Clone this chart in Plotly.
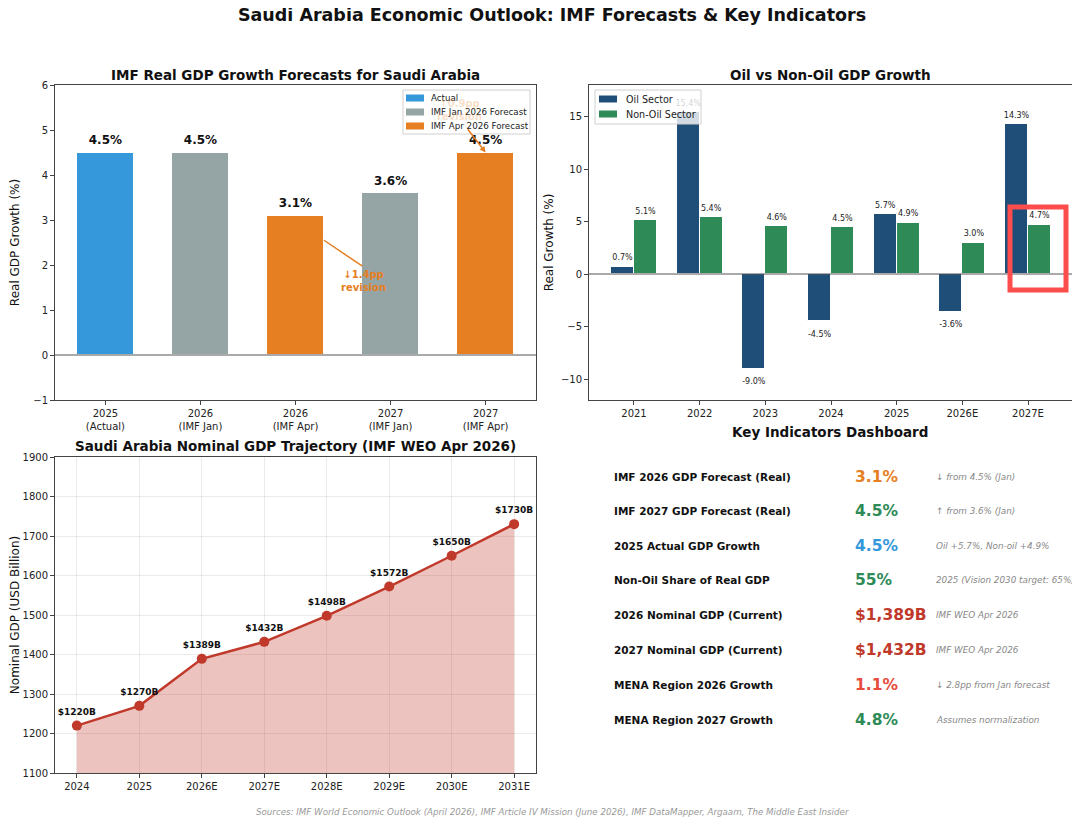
import plotly.graph_objects as go

# --- data -------------------------------------------------------------
fc_labels = ["2025<br>(Actual)", "2026<br>(IMF Jan)", "2026<br>(IMF Apr)",
             "2027<br>(IMF Jan)", "2027<br>(IMF Apr)"]
fc_values = [4.5, 4.5, 3.1, 3.6, 4.5]
fc_kind = ["Actual", "IMF Jan 2026 Forecast", "IMF Apr 2026 Forecast",
           "IMF Jan 2026 Forecast", "IMF Apr 2026 Forecast"]

sector_years = ["2021", "2022", "2023", "2024", "2025", "2026E", "2027E"]
oil_growth = [0.7, 15.4, -9.0, -4.5, 5.7, -3.6, 14.3]
nonoil_growth = [5.1, 5.4, 4.6, 4.5, 4.9, 3.0, 4.7]

nominal_years = ["2024", "2025", "2026E", "2027E", "2028E", "2029E", "2030E", "2031E"]
nominal_gdp = [1220, 1270, 1389, 1432, 1498, 1572, 1650, 1730]

kpi_labels = ["IMF 2026 GDP Forecast (Real)", "IMF 2027 GDP Forecast (Real)",
              "2025 Actual GDP Growth", "Non-Oil Share of Real GDP",
              "2026 Nominal GDP (Current)", "2027 Nominal GDP (Current)",
              "MENA Region 2026 Growth", "MENA Region 2027 Growth"]
kpi_values = ["3.1%", "4.5%", "4.5%", "55%", "$1,389B", "$1,432B", "1.1%", "4.8%"]
kpi_notes = ["↓ from 4.5% (Jan)", "↑ from 3.6% (Jan)", "Oil +5.7%, Non-oil +4.9%",
             "2025 (Vision 2030 target: 65%)", "IMF WEO Apr 2026", "IMF WEO Apr 2026",
             "↓ 2.8pp from Jan forecast", "Assumes normalization"]
kpi_colors = ["#e67e22", "#2e8b57", "#3498db", "#2e8b57", "#c0392b", "#c0392b",
              "#e74c3c", "#2e8b57"]

kind_colors = {"Actual": "#3498db", "IMF Jan 2026 Forecast": "#95a5a6",
               "IMF Apr 2026 Forecast": "#e67e22"}
OIL, NONOIL, RED = "#1f4e79", "#2e8b57", "#c0392b"
FONT = "DejaVu Sans"

W, H = 1080, 824
OFF = 8  # page body margin


def px(x):
    return (x - OFF) / W


def py(y):
    return 1 - (y - OFF) / H


fig = go.Figure()

# --- chart 1: IMF real GDP forecasts ---------------------------------
pos = list(range(len(fc_values)))
for kind, col in kind_colors.items():
    xs = [p for p, k in zip(pos, fc_kind) if k == kind]
    ys = [v for v, k in zip(fc_values, fc_kind) if k == kind]
    fig.add_trace(go.Bar(x=xs, y=ys, width=0.6, name=kind, marker_color=col,
                         marker_line=dict(color="white", width=1), showlegend=False,
                         xaxis="x", yaxis="y"))
fig.add_trace(go.Scatter(x=pos, y=[v + 0.12 for v in fc_values],
                         text=[f"{v}%" for v in fc_values], mode="text",
                         textposition="top center",
                         textfont=dict(size=12, family=FONT, color="#111"),
                         texttemplate="<b>%{text}</b>", showlegend=False,
                         hoverinfo="skip", xaxis="x", yaxis="y"))

# --- chart 2: oil vs non-oil ------------------------------------------
spos = list(range(len(sector_years)))
fig.add_trace(go.Bar(x=spos, y=oil_growth, width=0.35, offset=-0.35, name="Oil Sector",
                     marker_color=OIL, marker_line=dict(color="white", width=1),
                     showlegend=False, xaxis="x2", yaxis="y2"))
fig.add_trace(go.Bar(x=spos, y=nonoil_growth, width=0.35, offset=0, name="Non-Oil Sector",
                     marker_color=NONOIL, marker_line=dict(color="white", width=1),
                     showlegend=False, xaxis="x2", yaxis="y2"))
oil_lbl_y = [v + 0.4 if v >= 0 else v - 0.9 for v in oil_growth]
oil_pos = ["top center" if v >= 0 else "bottom center" for v in oil_growth]
fig.add_trace(go.Scatter(x=[p - 0.175 for p in spos], y=oil_lbl_y,
                         text=[f"{v}%" for v in oil_growth], mode="text",
                         textposition=oil_pos,
                         textfont=dict(size=8, family=FONT, color="#222"),
                         showlegend=False, hoverinfo="skip", xaxis="x2", yaxis="y2"))
fig.add_trace(go.Scatter(x=[p + 0.175 for p in spos], y=[v + 0.4 for v in nonoil_growth],
                         text=[f"{v}%" for v in nonoil_growth], mode="text",
                         textposition="top center",
                         textfont=dict(size=8, family=FONT, color="#222"),
                         showlegend=False, hoverinfo="skip", xaxis="x2", yaxis="y2"))

# --- chart 3: nominal GDP -------------------------------------------
npos = list(range(len(nominal_years)))
fig.add_trace(go.Scatter(x=npos, y=nominal_gdp, mode="lines+markers", fill="tozeroy",
                         fillcolor="rgba(192,57,43,0.3)",
                         line=dict(color=RED, width=2.5), marker=dict(size=10, color=RED),
                         showlegend=False, xaxis="x3", yaxis="y3"))
fig.add_trace(go.Scatter(x=npos, y=[v + 22 for v in nominal_gdp],
                         text=[f"${v}B" for v in nominal_gdp], mode="text",
                         textposition="top center", texttemplate="<b>%{text}</b>",
                         textfont=dict(size=9, family=FONT, color="#111"),
                         showlegend=False, hoverinfo="skip", xaxis="x3", yaxis="y3"))

axis_common = dict(showline=True, mirror=True, linecolor="#444", linewidth=1,
                   ticks="outside", ticklen=4, tickcolor="#444", automargin=False,
                   tickfont=dict(size=10, family=FONT, color="#222"), zeroline=False)

fig.update_layout(
    width=W, height=H, margin=dict(l=0, r=0, t=0, b=0, autoexpand=False),
    paper_bgcolor="white", plot_bgcolor="white",
    font=dict(family=FONT, color="#111"),
    barmode="overlay", bargap=0, showlegend=False,
    title=dict(text="<b>Saudi Arabia Economic Outlook: IMF Forecasts & Key Indicators</b>",
               x=px(552), xanchor="center", y=py(15), yanchor="middle",
               font=dict(size=17.5, family=FONT, color="#111")),
    xaxis=dict(domain=[px(55), px(536)], range=[-0.53, 4.53], tickvals=pos,
               ticktext=fc_labels, anchor="y", showgrid=False, **axis_common),
    yaxis=dict(domain=[py(400), py(85)], range=[-1, 6], dtick=1, anchor="x",
               showgrid=False,
               title=dict(text="Real GDP Growth (%)", font=dict(size=12, family=FONT),
                          standoff=12),
               **axis_common),
    xaxis2=dict(domain=[px(589), px(1073)], range=[-0.685, 6.685], tickvals=spos,
                ticktext=sector_years, anchor="y2", showgrid=False, **axis_common),
    yaxis2=dict(domain=[py(400), py(85)], range=[-12, 18], tickvals=[-10, -5, 0, 5, 10, 15],
                anchor="x2", showgrid=False,
                title=dict(text="Real Growth (%)", font=dict(size=12, family=FONT),
                           standoff=4),
                **axis_common),
    xaxis3=dict(domain=[px(55), px(536)], range=[-0.35, 7.35], tickvals=npos,
                ticktext=nominal_years, anchor="y3", showgrid=True,
                gridcolor="rgba(0,0,0,0.08)", **axis_common),
    yaxis3=dict(domain=[py(773), py(457)], range=[1100, 1900], dtick=100, anchor="x3",
                showgrid=True, gridcolor="rgba(0,0,0,0.08)",
                title=dict(text="Nominal GDP (USD Billion)", font=dict(size=12, family=FONT)),
                **axis_common),
)

# zero lines
fig.add_shape(type="line", xref="x domain", yref="y", x0=0, x1=1, y0=0, y1=0,
              line=dict(color="#555", width=1))
fig.add_shape(type="line", xref="x2 domain", yref="y2", x0=0, x1=1, y0=0, y1=0,
              line=dict(color="#555", width=1))


# legends drawn as boxes so they stay compact like the original
def legend_box(x0, x1, y0, y1, entries, row_ys, patch_x, text_x, size):
    fig.add_shape(type="rect", xref="paper", yref="paper", layer="above",
                  x0=px(x0), x1=px(x1), y0=py(y1), y1=py(y0),
                  fillcolor="rgba(255,255,255,0.8)", line=dict(color="#d0d0d0", width=1))
    for (name, col), ry in zip(entries, row_ys):
        fig.add_shape(type="rect", xref="paper", yref="paper", layer="above",
                      x0=px(patch_x), x1=px(patch_x + 18), y0=py(ry + 3.5), y1=py(ry - 3.5),
                      fillcolor=col, line=dict(width=0))
        fig.add_annotation(x=px(text_x), y=py(ry), xref="paper", yref="paper",
                           xanchor="left", yanchor="middle", showarrow=False, text=name,
                           font=dict(size=size, family=FONT, color="#222"))


legend_box(403, 530, 90, 134, list(kind_colors.items()), [98, 112, 126], 406, 429, 8.7)
legend_box(595, 701, 90, 124, [("Oil Sector", OIL), ("Non-Oil Sector", NONOIL)],
           [99, 114], 599, 624, 9.6)

# revision annotations
fig.add_annotation(x=2.3, y=2.55, ax=2.72, ay=1.95, xref="x", yref="y", axref="x", ayref="y",
                   text="", showarrow=True, arrowhead=0, arrowwidth=1.5, arrowcolor="#e67e22")
fig.add_annotation(x=2.72, y=1.65, xref="x", yref="y", showarrow=False,
                   xanchor="center", yanchor="middle",
                   text="<b>↓1.4pp<br>revision</b>",
                   font=dict(size=10, family=FONT, color="#e67e22"))
fig.add_annotation(x=4, y=4.5, ax=3.8, ay=5.05, xref="x", yref="y", axref="x", ayref="y",
                   text="", showarrow=True, arrowhead=2, arrowsize=0.8, arrowwidth=1.5,
                   arrowcolor="#e67e22")
fig.add_annotation(x=3.72, y=5.45, xref="x", yref="y", showarrow=False,
                   xanchor="center", yanchor="middle",
                   text="<b>↑0.9pp<br>revision</b>",
                   font=dict(size=10, family=FONT, color="rgba(230,126,34,0.25)"))

# subplot titles
for txt, x, y in [("IMF Real GDP Growth Forecasts for Saudi Arabia", 295, 75),
                  ("Oil vs Non-Oil GDP Growth", 830, 75),
                  ("Saudi Arabia Nominal GDP Trajectory (IMF WEO Apr 2026)", 295, 446),
                  ("Key Indicators Dashboard", 830, 432)]:
    fig.add_annotation(x=px(x), y=py(y), xref="paper", yref="paper", showarrow=False,
                       xanchor="center", yanchor="middle",
                       text=f"<b>{txt}</b>", font=dict(size=13.5, family=FONT, color="#111"))

# dashboard rows
row_y = [477, 511, 546, 580, 615, 650, 685, 720]
for lab, val, note, col, y in zip(kpi_labels, kpi_values, kpi_notes, kpi_colors, row_y):
    fig.add_annotation(x=px(612), y=py(y), xref="paper", yref="paper", xanchor="left",
                       yanchor="middle", showarrow=False, text=f"<b>{lab}</b>",
                       font=dict(size=10.5, family=FONT, color="#111"))
    fig.add_annotation(x=px(853), y=py(y), xref="paper", yref="paper", xanchor="left",
                       yanchor="middle", showarrow=False, text=f"<b>{val}</b>",
                       font=dict(size=15.5, family=FONT, color=col))
    fig.add_annotation(x=px(934), y=py(y), xref="paper", yref="paper", xanchor="left",
                       yanchor="middle", showarrow=False, text=f"<i>{note}</i>",
                       font=dict(size=8.8, family=FONT, color="#888"))

# footer
fig.add_annotation(x=px(553), y=py(812), xref="paper", yref="paper", showarrow=False,
                   xanchor="center", yanchor="middle",
                   text="<i>Sources: IMF World Economic Outlook (April 2026), IMF Article IV Mission "
                        "(June 2026), IMF DataMapper, Argaam, The Middle East Insider</i>",
                   font=dict(size=8.7, family=FONT, color="#999"))

# highlight box
fig.add_shape(type="rect", xref="paper", yref="paper", x0=px(1010), x1=px(1066),
              y0=py(290), y1=py(207), line=dict(color="#ff4d4d", width=5))

fig.write_html("out.html")
